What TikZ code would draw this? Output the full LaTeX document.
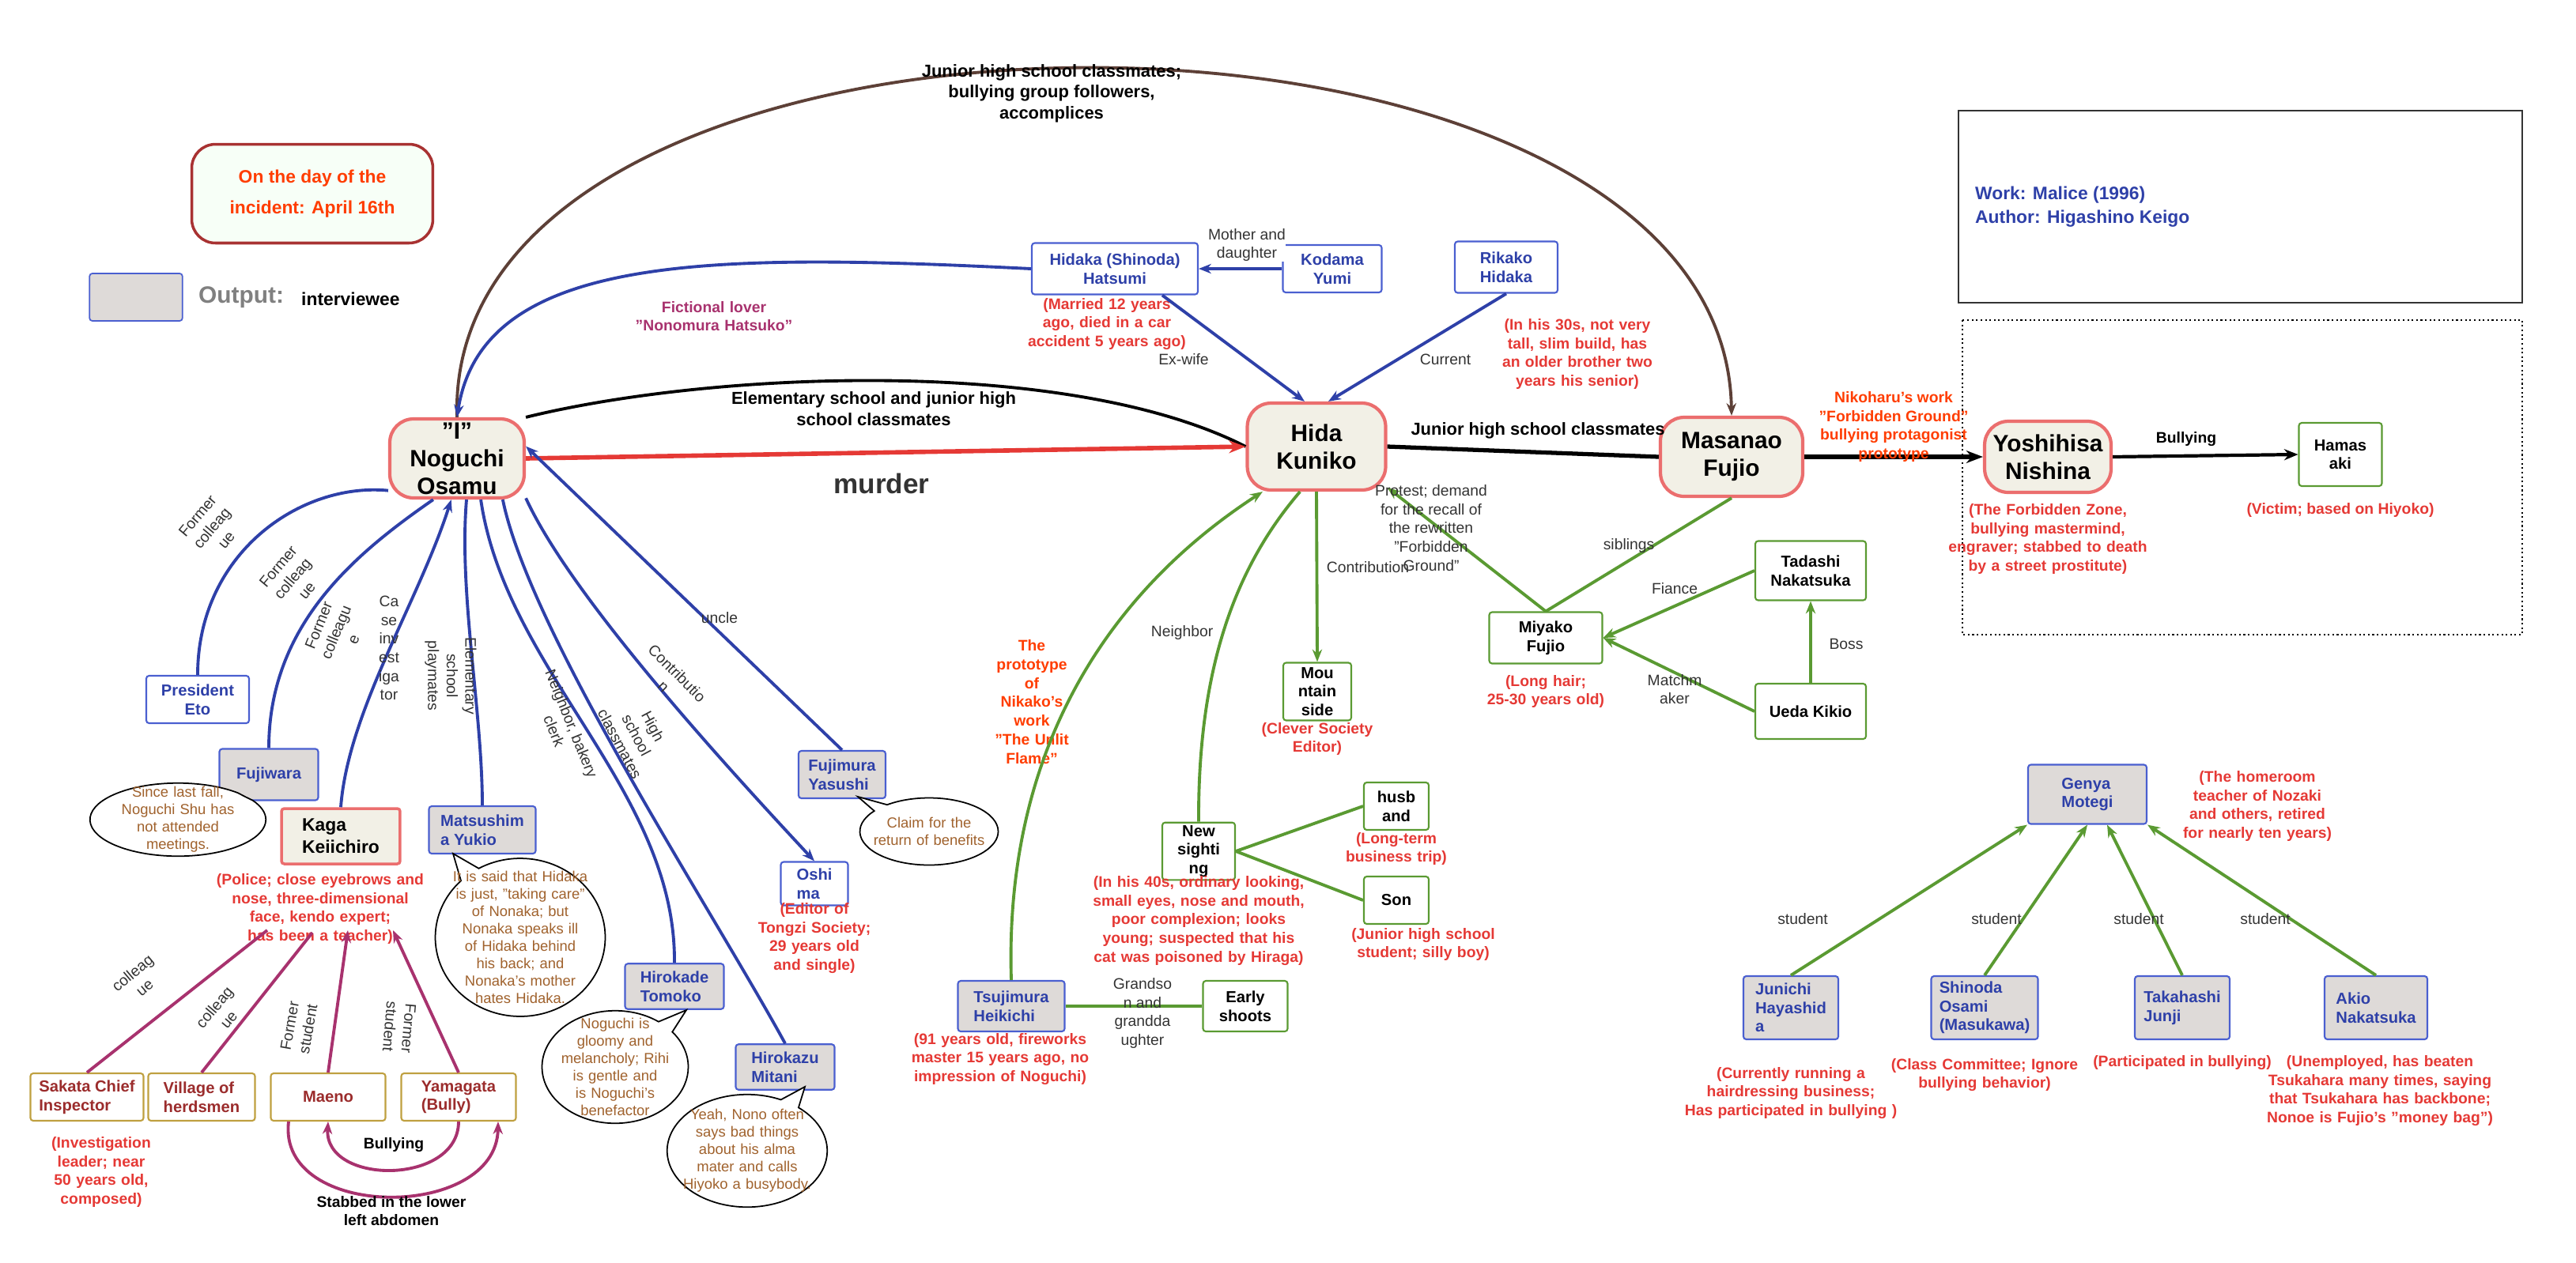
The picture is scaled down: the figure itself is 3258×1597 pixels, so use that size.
\documentclass[tikz,border=0pt]{standalone}
\usepackage{fontspec}
\setmainfont{Liberation Sans}
\usetikzlibrary{arrows.meta,shapes.callouts}
\definecolor{bl}{HTML}{2E40A8}
\definecolor{blb}{HTML}{4A5FD0}
\definecolor{rd}{HTML}{E53935}
\definecolor{org}{HTML}{FF3D00}
\definecolor{mainb}{HTML}{EB6E6E}
\definecolor{beige}{HTML}{F2F0E6}
\definecolor{gr}{HTML}{DEDAD8}
\definecolor{gold}{HTML}{BFA040}
\definecolor{dred}{HTML}{9B2C2C}
\definecolor{grn}{HTML}{5A9A32}
\definecolor{pur}{HTML}{A8326E}
\definecolor{brn}{HTML}{5D4037}
\definecolor{btx}{HTML}{A0622D}
\definecolor{tx}{HTML}{333333}
\definecolor{dayb}{HTML}{A83232}
\tikzset{
 x=0.02cm,y=-0.02cm,
 every node/.append style={execute at begin node={\hyphenpenalty=10000\exhyphenpenalty=10000}},
 mainnode/.style={draw=mainb,line width=2.4pt,rounded corners=0.6cm,fill=beige,font=\bfseries\fontsize{17}{20}\selectfont,align=center,inner sep=2pt},
 bnode/.style={draw=blb,line width=1.2pt,fill=white,text=bl,font=\bfseries\fontsize{11.5}{13.5}\selectfont,align=center,rounded corners=2pt,inner sep=2pt},
 gnode/.style={bnode,fill=gr},
 goldnode/.style={draw=gold,line width=1.2pt,fill=white,text=dred,font=\bfseries\fontsize{11.5}{13.5}\selectfont,align=left,rounded corners=2pt,inner sep=3pt},
 grnode/.style={draw=grn,line width=1.2pt,fill=white,text=black,font=\bfseries\fontsize{11.5}{13.5}\selectfont,align=center,rounded corners=2pt,inner sep=2pt},
 ann/.style={text=rd,font=\bfseries\fontsize{11}{13.5}\selectfont,align=center,inner sep=0pt},
 lbl/.style={text=tx,font=\fontsize{11}{13.5}\selectfont,align=center,inner sep=0pt},
 blbl/.style={text=black,font=\bfseries\fontsize{12.5}{15}\selectfont,align=center,inner sep=0pt},
 bubtext/.style={text=btx,font=\fontsize{10.5}{12.5}\selectfont,align=center,inner sep=0pt},
 bub/.style={draw=black,line width=1pt,fill=white},
 ble/.style={draw=bl,line width=2.2pt},
 bla/.style={ble,-{Stealth[length=9pt,width=7pt]}},
 gre/.style={draw=grn,line width=2.2pt},
 gra/.style={gre,-{Stealth[length=9pt,width=7pt]}},
 pue/.style={draw=pur,line width=2.2pt},
 pua/.style={pue,-{Stealth[length=9pt,width=7pt]}},
}
\begin{document}
\begin{tikzpicture}
\useasboundingbox (0,0) rectangle (3258,1597);
% ---- main nodes
\node[mainnode,minimum width=3.4cm,minimum height=2cm] (nog) at (578,580) {"I"\\Noguchi\\Osamu};
\node[mainnode,minimum width=3.5cm,minimum height=2.2cm] (hida) at (1665,565) {Hida\\Kuniko};
\node[mainnode,minimum width=3.6cm,minimum height=2cm] (masa) at (2190,578) {Masanao\\Fujio};
\node[mainnode,minimum width=3.2cm,minimum height=1.8cm] (nish) at (2590,578) {Yoshihisa\\Nishina};
\node[grnode,minimum width=2.1cm,minimum height=1.6cm] (hama) at (2960,575) {Hamas\\aki};
% ---- legend/title
\node[draw=dayb,line width=2pt,rounded corners=0.6cm,fill=green!3,minimum width=6.1cm,minimum height=2.5cm,text=org,font=\bfseries\fontsize{13}{22}\selectfont,align=center] (day) at (395,245) {On the day of the\\incident: April 16th};
\node[draw=blb,line width=1pt,fill=gr,rounded corners=2pt,minimum width=2.35cm,minimum height=1.2cm] (leg) at (172,376) {};
\node[anchor=west,text=gray,font=\bfseries\fontsize{17}{20}\selectfont] (legt) at (245,376) {Output:};
\node[anchor=west,font=\bfseries\fontsize{13}{16}\selectfont] (legi) at (375,378) {interviewee};
\draw[line width=1.4pt,draw=tx] (2477,140) rectangle (3190,383);
\node[anchor=west,text=bl,font=\bfseries\fontsize{13}{17}\selectfont,align=left] (work) at (2492,262) {Work: Malice (1996)\\Author: Higashino Keigo};
\draw[dotted,line width=1.2pt] (2482,405) rectangle (3190,803);
% ---- top blue nodes
\node[bnode,minimum width=4.2cm,minimum height=1.3cm] (hats) at (1410,340) {Hidaka (Shinoda)\\Hatsumi};
\node[bnode,minimum width=2.5cm,minimum height=1.2cm] (koda) at (1685,340) {Kodama\\Yumi};
\node[bnode,minimum width=2.6cm,minimum height=1.3cm] (rika) at (1905,338) {Rikako\\Hidaka};
\node[ann,text width=4cm] at (1400,410) {(Married 12 years ago, died in a car accident 5 years ago)};
\node[ann,text width=4.4cm] at (1995,448) {(In his 30s, not very tall, slim build, has an older brother two years his senior)};
\node[ann,text=pur,text width=5cm] at (903,400) {Fictional lover "Nonomura Hatsuko"};
% ---- left nodes
\node[bnode,minimum width=2.6cm,minimum height=1.2cm] (eto) at (250,885) {President\\Eto};
\node[gnode,minimum width=2.5cm,minimum height=1.3cm] (fuji) at (340,980) {Fujiwara};
\node[draw=mainb,line width=2pt,fill=beige,minimum width=3cm,minimum height=1.4cm,align=left,font=\bfseries\fontsize{13}{16}\selectfont,rounded corners=2pt] (kaga) at (431,1058) {Kaga\\Keiichiro};
\node[gnode,minimum width=2.7cm,minimum height=1.2cm,align=left] (mats) at (610,1050) {Matsushim\\a Yukio};
\node[gnode,minimum width=2.5cm,minimum height=1.15cm,align=left] (hiro) at (853,1248) {Hirokade\\Tomoko};
\node[gnode,minimum width=2.5cm,minimum height=1.15cm,align=left] (mita) at (993,1350) {Hirokazu\\Mitani};
\node[bnode,minimum width=1.7cm,minimum height=1.1cm,align=left] (oshi) at (1030,1118) {Oshi\\ma};
\node[gnode,minimum width=2.2cm,minimum height=1.2cm,align=left] (fjmr) at (1065,980) {Fujimura\\Yasushi};
\node[ann,text width=6cm] (kagaann) at (405,1150) {(Police; close eyebrows and nose, three-dimensional face, kendo expert; has been a teacher)};
\node[ann,text width=3cm] at (1030,1187) {(Editor of Tongzi Society; 29 years old and single)};
\node[goldnode,minimum width=2.86cm,minimum height=1.2cm] (saka) at (110,1388) {Sakata Chief\\Inspector};
\node[goldnode,minimum width=2.7cm,minimum height=1.2cm] (vill) at (255,1388) {Village of\\herdsmen};
\node[goldnode,minimum width=2.9cm,minimum height=1.2cm] (maen) at (415,1388) {Maeno};
\node[goldnode,minimum width=2.9cm,minimum height=1.2cm] (yama) at (580,1388) {Yamagata\\(Bully)};
\node[ann,text width=2.9cm] at (128,1483) {(Investigation leader; near 50 years old, composed)};
% ---- bubbles
\node[bub,ellipse callout,minimum width=4.45cm,minimum height=1.85cm,callout absolute pointer={(310,1008)}] (b1) at (225,1037) {};
\node[bubtext,text width=3.1cm] at (225,1037) {Since last fall, Noguchi Shu has not attended meetings.};
\node[bub,ellipse callout,minimum width=4.3cm,minimum height=4cm,callout absolute pointer={(573,1080)}] (b2) at (658,1186) {};
\node[bubtext,text width=3.5cm] at (658,1186) {It is said that Hidaka is just, "taking care" of Nonaka; but Nonaka speaks ill of Hidaka behind his back; and Nonaka's mother hates Hidaka.};
\node[bub,ellipse callout,minimum width=3.7cm,minimum height=2.85cm,callout absolute pointer={(868,1278)}] (b3) at (778,1350) {};
\node[bubtext,text width=2.9cm] at (778,1350) {Noguchi is gloomy and melancholy; Rihi is gentle and is Noguchi's benefactor};
\node[bub,ellipse callout,minimum width=4.05cm,minimum height=2.85cm,callout absolute pointer={(1018,1375)}] (b4) at (945,1456) {};
\node[bubtext,text width=3.3cm] at (945,1456) {Yeah, Nono often says bad things about his alma mater and calls Hiyoko a busybody.};
\node[bub,ellipse callout,minimum width=3.5cm,minimum height=1.7cm,callout absolute pointer={(1085,1008)}] (b5) at (1175,1052) {};
\node[bubtext,text width=3cm] at (1175,1052) {Claim for the return of benefits};
% ---- center green nodes
\node[grnode,minimum width=1.72cm,minimum height=1.46cm] (moun) at (1666,875) {Mou\\ntain\\side};
\node[ann,text width=3cm] at (1666,935) {(Clever Society Editor)};
\node[grnode,minimum width=2.86cm,minimum height=1.3cm] (miya) at (1955,807) {Miyako\\Fujio};
\node[ann,text width=3.6cm] at (1955,875) {(Long hair; 25-30 years old)};
\node[grnode,minimum width=2.8cm,minimum height=1.5cm] (tada) at (2290,722) {Tadashi\\Nakatsuka};
\node[grnode,minimum width=2.8cm,minimum height=1.4cm] (ueda) at (2290,900) {Ueda Kikio};
\node[grnode,minimum width=1.84cm,minimum height=1.32cm] (news) at (1516,1077) {New\\sighti\\ng};
\node[grnode,minimum width=1.64cm,minimum height=1.2cm] (husb) at (1766,1020) {husb\\and};
\node[grnode,minimum width=1.64cm,minimum height=1.2cm] (son) at (1766,1139) {Son};
\node[grnode,minimum width=2.14cm,minimum height=1.28cm] (earl) at (1575,1273) {Early\\shoots};
\node[gnode,minimum width=2.7cm,minimum height=1.28cm,align=left] (tsuj) at (1279,1273) {Tsujimura\\Heikichi};
\node[ann,text width=4.2cm] at (1766,1074) {(Long-term business trip)};
\node[ann,text width=4cm] at (1800,1195) {(Junior high school student; silly boy)};
\node[ann,text width=5.5cm] at (1516,1165) {(In his 40s, ordinary looking, small eyes, nose and mouth, poor complexion; looks young; suspected that his cat was poisoned by Hiraga)};
\node[ann,text width=4.8cm] at (1265,1340) {(91 years old, fireworks master 15 years ago, no impression of Noguchi)};
\node[ann,text=org,text width=2cm] at (1305,888) {The prototype of Nikako's work "The Unlit Flame"};
\node[ann,text width=5.2cm] at (2590,682) {(The Forbidden Zone, bullying mastermind, engraver; stabbed to death by a street prostitute)};
\node[ann] at (2960,645) {(Victim; based on Hiyoko)};
% ---- right students
\node[gnode,minimum width=3cm,minimum height=1.5cm,align=left] (geny) at (2640,1005) {Genya\\Motegi};
\node[ann,text width=4.2cm] at (2855,1020) {(The homeroom teacher of Nozaki and others, retired for nearly ten years)};
\node[gnode,minimum width=2.4cm,minimum height=1.6cm,align=left] (juni) at (2265,1275) {Junichi\\Hayashid\\a};
\node[gnode,minimum width=2.7cm,minimum height=1.6cm,align=left] (shin) at (2510,1275) {Shinoda\\Osami\\(Masukawa)};
\node[gnode,minimum width=2.4cm,minimum height=1.6cm,align=left] (taka) at (2760,1275) {Takahashi\\Junji};
\node[gnode,minimum width=2.6cm,minimum height=1.6cm,align=left] (akio) at (3005,1275) {Akio\\Nakatsuka};
\node[ann,text width=5.4cm] at (2265,1383) {(Currently running a hairdressing business; Has participated in bullying )};
\node[ann,text width=5cm] at (2510,1360) {(Class Committee; Ignore bullying behavior)};
\node[ann] at (2760,1345) {(Participated in bullying)};
\node[ann,text width=6cm] at (3010,1380) {(Unemployed, has beaten Tsukahara many times, saying that Tsukahara has backbone; Nonoe is Fujio's "money bag")};
% ================= edges
\draw[draw=brn,line width=2.2pt,-{Stealth[length=9pt,width=7pt]}] (nog.north) .. controls (560,-60) and (2180,-60) .. (masa.north);
\node[blbl] at (1330,118) {Junior high school classmates;\\bullying group followers,\\accomplices};
\draw[line width=2.2pt] (nog.north east) .. controls (900,470) and (1350,450) .. (hida.west);
\node[blbl] at (1105,517) {Elementary school and junior high\\school classmates};
\draw[draw=rd,line width=3.2pt,-{Stealth[length=12pt,width=9pt]}] (nog.east) -- (hida.west);
\node[font=\bfseries\fontsize{20}{24}\selectfont,text=tx] at (1115,612) {murder};
\draw[line width=3pt] (hida.east) -- (masa.west);
\node[blbl] at (1945,545) {Junior high school classmates};
\draw[line width=3pt,-{Stealth[length=12pt,width=9pt]}] (masa.east) -- (nish.west);
\node[ann,text=org] at (2395,540) {Nikoharu's work\\"Forbidden Ground"\\bullying protagonist\\prototype};
\draw[line width=2.4pt,-{Stealth[length=10pt,width=8pt]}] (nish.east) -- (hama.west);
\node[blbl,font=\bfseries\fontsize{11}{13}\selectfont] at (2765,556) {Bullying};
\draw[bla] (hats.west) .. controls (900,320) and (610,320) .. (nog.north);
\draw[bla] (koda.west) -- (hats.east);
\node[lbl,fill=white] at (1577,310) {Mother and\\daughter};
\draw[bla] ([xshift=1.2cm]hats.south) -- ([xshift=-0.3cm]hida.north);
\node[lbl] at (1497,455) {Ex-wife};
\draw[bla] (rika.south) -- ([xshift=0.3cm]hida.north);
\node[lbl] at (1828,455) {Current};
\draw[ble] (eto.north) .. controls (250,700) and (380,610) .. (nog.205);
\node[lbl,rotate=50] at (268,668) {Former\\colleag\\ue};
\draw[ble] (fuji.north) .. controls (340,790) and (450,700) .. (nog.240);
\node[lbl,rotate=50] at (370,732) {Former\\colleag\\ue};
\draw[bla] (kaga.north) .. controls (440,900) and (530,760) .. (nog.262);
\node[lbl,rotate=68] at (425,800) {Former\\colleagu\\e};
\node[lbl,text width=0.6cm] at (492,820) {Ca\\se\\inv\\est\\iga\\tor};
\draw[ble] (mats.north) .. controls (610,900) and (580,750) .. (nog.283);
\node[lbl,rotate=-90] at (570,855) {Elementary\\school\\playmates};
\draw[ble] (hiro.north) .. controls (855,1000) and (640,850) .. (nog.300);
\node[lbl,rotate=-68] at (712,920) {Neighbor, bakery\\clerk};
\draw[ble] (mita.north) .. controls (900,1150) and (670,800) .. (nog.318);
\node[lbl,rotate=-62] at (805,930) {High\\school\\classmates};
\draw[bla] (nog.330) .. controls (720,750) and (900,950) .. (oshi.north);
\node[lbl,rotate=-45] at (848,860) {Contributio\\n};
\draw[bla] (fjmr.north) -- (nog.10);
\node[lbl] at (910,782) {uncle};
\draw[pue] (saka.north) -- (338,1177);
\node[lbl,rotate=40] at (175,1240) {colleag\\ue};
\draw[pue] (vill.north) -- (395,1180);
\node[lbl,rotate=50] at (280,1282) {colleag\\ue};
\draw[pua] (maen.north) -- (440,1177);
\node[lbl,rotate=80] at (378,1300) {Former\\student};
\draw[pua] (yama.north) -- (497,1177);
\node[lbl,rotate=-95] at (505,1300) {Former\\student};
\draw[pua] (yama.south) .. controls (580,1500) and (410,1500) .. (maen.south);
\node[blbl,font=\bfseries\fontsize{11}{13}\selectfont] at (498,1449) {Bullying};
\draw[pua] ([xshift=-1cm]maen.south) .. controls (350,1545) and (628,1545) .. ([xshift=1cm]yama.south);
\node[blbl,font=\bfseries\fontsize{11}{13.5}\selectfont] at (495,1532) {Stabbed in the lower\\left abdomen};
\draw[gra] (miya.north) -- (hida.330);
\node[lbl] at (1810,668) {Protest; demand\\for the recall of\\the rewritten\\"Forbidden\\Ground"};
\draw[gre] (masa.south) -- (miya.north);
\node[lbl] at (2060,690) {siblings};
\draw[gra] (tada.west) -- (miya.east);
\node[lbl] at (2118,745) {Fiance};
\draw[gra] (ueda.west) -- (miya.east);
\node[lbl] at (2118,872) {Matchm\\aker};
\draw[gra] (ueda.north) -- (tada.south);
\node[lbl] at (2335,815) {Boss};
\draw[gra] (hida.south) -- (moun.north);
\node[lbl] at (1730,718) {Contribution};
\draw[gre] (hida.250) .. controls (1560,720) and (1515,850) .. (news.north);
\node[lbl] at (1495,800) {Neighbor};
\draw[gra] (tsuj.north) .. controls (1270,950) and (1400,750) .. (hida.220);
\draw[gre] (news.east) -- (husb.west);
\draw[gre] (news.east) -- (son.west);
\draw[gre] (tsuj.east) -- (earl.west);
\node[lbl] at (1445,1282) {Grandso\\n and\\grandda\\ughter};
\draw[gra] (juni.north) -- (geny.south west);
\node[lbl] at (2280,1163) {student};
\draw[gra] (shin.north) -- (geny.south);
\node[lbl] at (2525,1163) {student};
\draw[gra] (taka.north) -- ([xshift=0.5cm]geny.south);
\node[lbl] at (2705,1163) {student};
\draw[gra] (akio.north) -- (geny.south east);
\node[lbl] at (2865,1163) {student};
\end{tikzpicture}
\end{document}
